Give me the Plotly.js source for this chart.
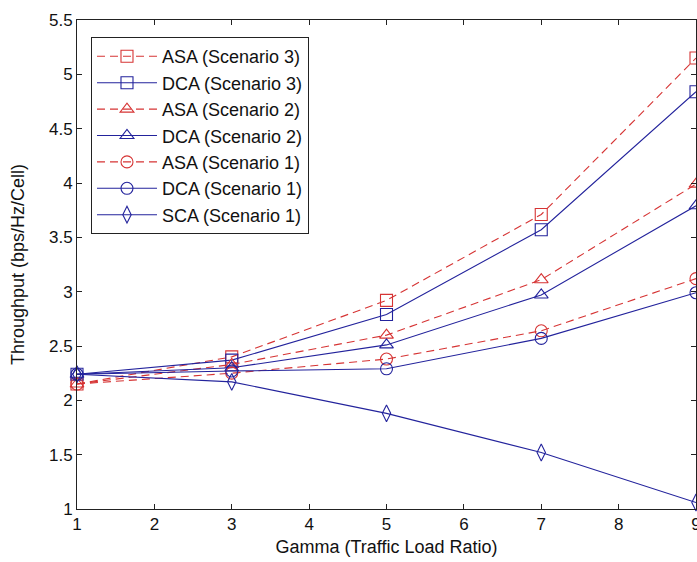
<!DOCTYPE html>
<html>
<head>
<meta charset="utf-8">
<script src="https://cdn.plot.ly/plotly-3.0.1.min.js"></script>
<style>
  html, body { margin: 0; padding: 0; background: #fff; }
  #chart { width: 697px; height: 562px; }
</style>
</head>
<body>
<div id="chart"></div>
<script>
// Data
const gamma = [1, 3, 5, 7, 9];

const asaScenario3 = [2.15, 2.40, 2.92, 3.71, 5.15];
const dcaScenario3 = [2.24, 2.37, 2.79, 3.57, 4.84];
const asaScenario2 = [2.15, 2.33, 2.60, 3.11, 3.99];
const dcaScenario2 = [2.24, 2.30, 2.51, 2.97, 3.79];
const asaScenario1 = [2.15, 2.25, 2.38, 2.64, 3.12];
const dcaScenario1 = [2.24, 2.27, 2.29, 2.57, 2.99];
const scaScenario1 = [2.24, 2.17, 1.88, 1.52, 1.06];

const seriesNames = [
  'ASA (Scenario 3)', 'DCA (Scenario 3)',
  'ASA (Scenario 2)', 'DCA (Scenario 2)',
  'ASA (Scenario 1)', 'DCA (Scenario 1)',
  'SCA (Scenario 1)'
];

const xTickVals = [1, 2, 3, 4, 5, 6, 7, 8, 9];
const xTickText = ['1', '2', '3', '4', '5', '6', '7', '8', '9'];
const yTickVals = [1, 1.5, 2, 2.5, 3, 3.5, 4, 4.5, 5, 5.5];
const yTickText = ['1', '1.5', '2', '2.5', '3', '3.5', '4', '4.5', '5', '5.5'];

const RED = '#d63434';
const BLUE = '#23239c';
const FONT = 'Liberation Sans, Arial, Helvetica, sans-serif';

function mk(name, y, color, dash, symbol) {
  return {
    x: gamma, y: y, name: name, type: 'scatter', mode: 'lines+markers',
    line: { color: color, width: 1.1, dash: dash },
    marker: { symbol: symbol, size: 12, color: color, line: { color: color, width: 1.1 } },
    cliponaxis: false
  };
}

const DASH = '8px,5px';
const traces = [
  mk(seriesNames[0], asaScenario3, RED, DASH, 'square-open'),
  mk(seriesNames[1], dcaScenario3, BLUE, 'solid', 'square-open'),
  mk(seriesNames[2], asaScenario2, RED, DASH, 'triangle-up-open'),
  mk(seriesNames[3], dcaScenario2, BLUE, 'solid', 'triangle-up-open'),
  mk(seriesNames[4], asaScenario1, RED, DASH, 'circle-open'),
  mk(seriesNames[5], dcaScenario1, BLUE, 'solid', 'circle-open'),
  mk(seriesNames[6], scaScenario1, BLUE, 'solid', 'diamond-tall-open')
];

const axisCommon = {
  showgrid: false, zeroline: false,
  showline: true, linecolor: '#222', linewidth: 1, mirror: 'ticks',
  ticks: 'inside', ticklen: 5, tickcolor: '#222', tickwidth: 1,
  ticklabeloverflow: 'allow',
  tickfont: { family: FONT, size: 17, color: '#111' }
};

const layout = {
  width: 697, height: 562,
  margin: { l: 77, r: 1, t: 20, b: 53 },
  paper_bgcolor: '#fff', plot_bgcolor: '#fff',
  font: { family: FONT, size: 17, color: '#111' },
  showlegend: true,
  legend: {
    x: 0.0226, y: 0.965, xanchor: 'left', yanchor: 'top',
    bgcolor: '#fff', bordercolor: '#222', borderwidth: 1,
    font: { family: FONT, size: 18, color: '#111' },
    itemwidth: 60,
    tracegroupgap: 0
  },
  xaxis: Object.assign({}, axisCommon, {
    range: [1, 9], tickvals: xTickVals, ticktext: xTickText,
    title: { text: 'Gamma (Traffic Load Ratio)', font: { family: FONT, size: 18, color: '#111' }, standoff: 6 }
  }),
  yaxis: Object.assign({}, axisCommon, {
    range: [1, 5.5], tickvals: yTickVals, ticktext: yTickText,
    title: { text: 'Throughput (bps/Hz/Cell)', font: { family: FONT, size: 18, color: '#111' }, standoff: 19 }
  }),
  hovermode: false
};

Plotly.newPlot('chart', traces, layout, { displayModeBar: false, staticPlot: true }).then(function (gd) {
  // lengthen legend sample lines to fill the wider symbol area (MATLAB style)
  gd.querySelectorAll('.legend .legendlines path').forEach(function (p) {
    p.setAttribute('d', 'M5,0h60');
  });
  gd.querySelectorAll('.legend .legendpoints path').forEach(function (p) {
    p.setAttribute('transform', 'translate(35,0)');
  });
});
</script>
</body>
</html>
